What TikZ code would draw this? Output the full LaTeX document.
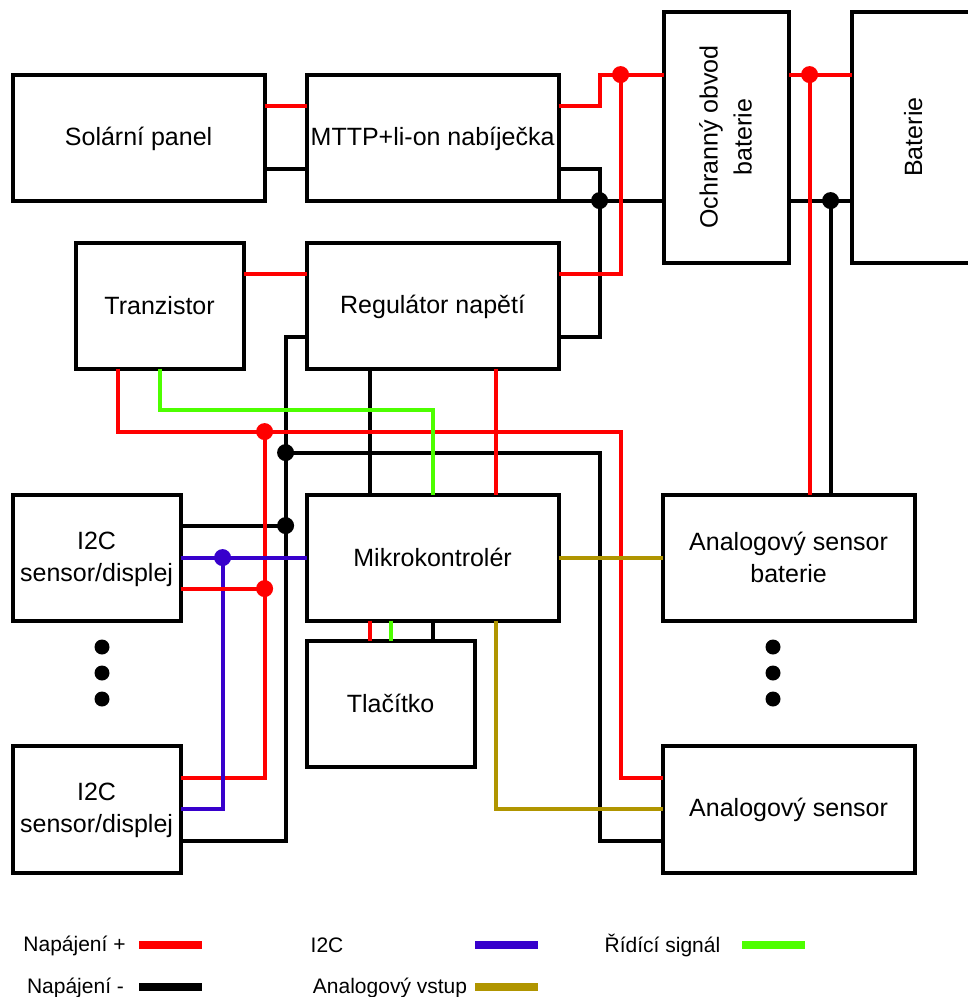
\documentclass[tikz,border=0pt]{standalone}
\usepackage{fontspec}
\usepackage{graphicx}
\setmainfont{Liberation Sans}
\definecolor{cred}{HTML}{FF0000}
\definecolor{cblue}{HTML}{3700CC}
\definecolor{cgreen}{HTML}{4DFF00}
\definecolor{colive}{HTML}{B09500}
\newcommand{\lowertext}[2][-1.5pt]{\raisebox{#1}[\height][\depth]{#2}}
\tikzset{
  box/.style={draw=black,line width=4pt,fill=white,rectangle,inner sep=0pt,outer sep=0pt,align=center,font=\fontsize{25}{32}\selectfont},
  boxbig/.style={box,minimum width=252pt,minimum height=126pt},
  boxsmall/.style={box,minimum width=168pt,minimum height=126pt},
  boxtall/.style={box,minimum width=125pt,minimum height=251pt},
  wire/.style={line width=4pt,line cap=butt,line join=miter},
  wirepos/.style={wire,draw=cred},
  wireneg/.style={wire,draw=black},
  wirebus/.style={wire,draw=cblue},
  wirectl/.style={wire,draw=cgreen},
  wireana/.style={wire,draw=colive},
  jn/.style={circle,fill=#1,inner sep=0pt,outer sep=0pt,minimum size=17pt},
  moredot/.style={circle,fill=black,inner sep=0pt,outer sep=0pt,minimum size=15pt},
  legtext/.style={inner sep=0pt,font=\fontsize{21}{24}\selectfont},
  legbar/.style={rectangle,fill=#1,inner sep=0pt,outer sep=0pt,minimum width=63pt,minimum height=8pt},
}
\begin{document}
\begin{tikzpicture}[x=1pt,y=-1pt]
\useasboundingbox (0,0) rectangle (968,997);
\begin{scope}[shift={(-.4,-.4)}]
% boxes
\node[boxbig] (solar) at (139,138) {\lowertext{Solární panel}};
\node[boxbig] (mppt) at (433,138) {\lowertext{MTTP+li-on nabíječka}};
\node[boxtall] (prot) at (727,137.5) {\rotatebox{90}{\raisebox{-1.5pt}[\height][\depth]{\begin{tabular}{@{}c@{}}Ochranný obvod\\[2pt]baterie\end{tabular}}}};
\node[boxtall] (batt) at (915,137.5) {\rotatebox{90}{\raisebox{1.5pt}[\height][\depth]{Baterie}}};
\node[boxsmall] (tran) at (160,306) {Tranzistor};
\node[boxbig] (reg) at (433,306) {\lowertext{Regulátor napětí}};
\node[boxsmall] (ione) at (97,558) {\lowertext{I2C}\\\lowertext{sensor/displej}};
\node[boxbig] (mcu) at (433,558) {Mikrokontrolér};
\node[boxbig] (abat) at (789,558) {Analogový sensor\\baterie};
\node[boxsmall] (btn) at (391,704) {Tlačítko};
\node[boxsmall,minimum height=127pt] (itwo) at (97,809.5) {\lowertext{I2C}\\\lowertext{sensor/displej}};
\node[boxbig,minimum height=127pt] (asen) at (789,809.5) {\lowertext[-1pt]{Analogový sensor}};
% junctions
\coordinate (jA) at (621,75);
\coordinate (jB) at (600,201);
\coordinate (jC) at (810,75);
\coordinate (jD) at (831,201);
\coordinate (jE) at (265,432);
\coordinate (jF) at (286,453);
\coordinate (jG) at (286,526);
\coordinate (jH) at (223,558);
\coordinate (jI) at (265,589);
% black wires
\draw[wireneg] ([yshift=-31pt]solar.east) -- ([yshift=-31pt]mppt.west);
\draw[wireneg] (mppt.south east) -- (prot.west |- jB);
\draw[wireneg] ([yshift=-31pt]mppt.east) -| (jB) |- ([yshift=-31pt]reg.east);
\draw[wireneg] (prot.east |- jD) -- (batt.west |- jD);
\draw[wireneg] (jD) -- (jD |- abat.north);
\draw[wireneg] ([yshift=-31pt]reg.west) -| (jF) |- ([yshift=-31.5pt]itwo.east);
\draw[wireneg] (jF) -| (600,841) -- ([yshift=-31.5pt]asen.west);
\draw[wireneg] (ione.east |- jG) -- (jG);
\draw[wireneg] ([xshift=-63pt]reg.south) -- ([xshift=-63pt]mcu.north);
\draw[wireneg] (mcu.south) -- (mcu.south |- btn.north);
% red wires under the blue bus
\draw[wirepos] ([yshift=32pt]solar.east) -- ([yshift=32pt]mppt.west);
\draw[wirepos] ([yshift=32pt]mppt.east) -| (600,75) -- (prot.west |- jA);
\draw[wirepos] ([yshift=32pt]reg.east) -| (jA);
\draw[wirepos] (prot.east |- jC) -- (batt.west |- jC);
\draw[wirepos] (jC) -- (jC |- abat.north);
\draw[wirepos] ([yshift=32pt]tran.east) -- ([yshift=32pt]reg.west);
\draw[wirepos] ([xshift=-42pt]tran.south) |- (jE);
\draw[wirepos] (jE) -- (621,432) |- ([yshift=31.5pt]asen.west);
\draw[wirepos] (jE) |- ([yshift=31.5pt]itwo.east);
\draw[wirepos] ([xshift=63pt]reg.south) -- ([xshift=63pt]mcu.north);
\draw[wirepos] ([xshift=-63pt]mcu.south) -- ([xshift=-21pt]btn.north);
% blue wires
\draw[wirebus] (jH) |- ([yshift=.5pt]itwo.east);
\draw[wirepos] (ione.east |- jI) -- (jI);
\draw[wirebus] (ione.east) -- (mcu.west);
% green wires
\draw[wirectl] (tran.south) |- (433,410) -- (mcu.north);
\draw[wirectl] (btn.north |- mcu.south) -- (btn.north);
% olive wires
\draw[wireana] (mcu.east) -- (abat.west);
\draw[wireana] ([xshift=63pt]mcu.south) |- ([yshift=.5pt]asen.west);
% junction dots
\node[jn=cred] (dA) at (jA) {};
\node[jn=black] (dB) at (jB) {};
\node[jn=cred] (dC) at (jC) {};
\node[jn=black] (dD) at (jD) {};
\node[jn=cred] (dE) at (jE) {};
\node[jn=black] (dF) at (jF) {};
\node[jn=black] (dG) at (jG) {};
\node[jn=cblue] (dH) at (jH) {};
\node[jn=cred] (dI) at (jI) {};
% ellipsis dots
\node[moredot] (la) at (102.4,647.4) {};
\node[moredot] (lb) at (102.4,673.4) {};
\node[moredot] (lc) at (102.4,699.4) {};
\node[moredot] (ra) at (773.4,647.4) {};
\node[moredot] (rb) at (773.4,673.4) {};
\node[moredot] (rc) at (773.4,699.4) {};
% legend
\node[legtext] (t1) at (74.9,946) {Napájení +};
\node[legbar=cred] (b1) at (170.5,945) {};
\node[legtext] (t2) at (75.9,988) {Napájení -};
\node[legbar=black] (b2) at (170.5,987) {};
\node[legtext] (t3) at (327.4,946) {I2C};
\node[legbar=cblue] (b3) at (506.5,945) {};
\node[legtext] (t4) at (390.4,988) {Analogový vstup};
\node[legbar=colive] (b4) at (506.5,987) {};
\node[legtext] (t5) at (662.9,946) {Řídící signál};
\node[legbar=cgreen] (b5) at (773.5,945) {};
\end{scope}
\end{tikzpicture}
\end{document}
